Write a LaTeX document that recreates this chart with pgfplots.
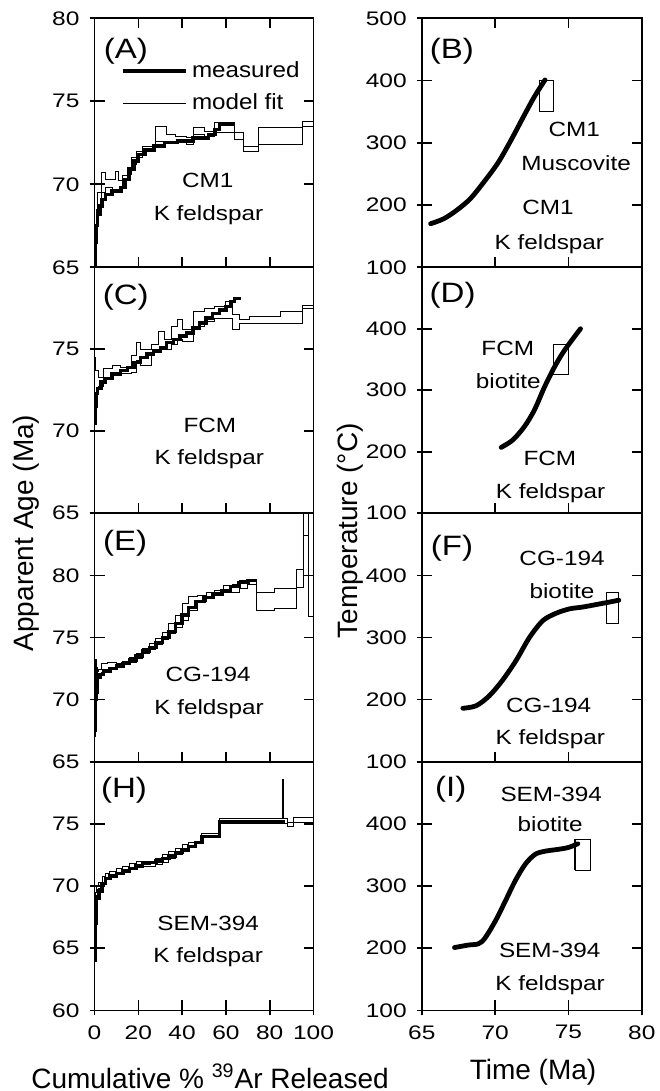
\documentclass[border=0pt]{standalone}
\usepackage{pgfplots}
\pgfplotsset{compat=1.18}
\usepackage{fontspec}
\setmainfont{Liberation Sans}
\newfontfamily\widefam{Liberation Sans}[FakeStretch=1.25]
\newfontfamily\midfam{Liberation Sans}[FakeStretch=1.18]
\newfontfamily\legfam{Liberation Sans}[FakeStretch=1.1]
\newcommand\tickfont{\widefam\fontsize{9.8}{10}\selectfont}
\newcommand\txtfont{\midfam\fontsize{10.3}{12}\selectfont}
\newcommand\lblfont{\midfam\fontsize{14}{16}\selectfont}
\newcommand\legfont{\legfam\fontsize{11}{12}\selectfont}
\newcommand\axfont{\fontsize{14}{16}\selectfont}

\pgfplotsset{
 base/.style={scale only axis, tick align=inside, major tick length=5pt,
   axis line style={line width=0.8pt}, tick style={black, line width=0.8pt},
   tick label style={font=\tickfont}, /pgf/number format/assume math mode=true,
   yticklabel style={xshift=-4pt}, xticklabel style={yshift=-4pt},
   ytick pos=both, clip=true},
 lpanel/.style={base, width=109.5pt, xmin=0, xmax=100, xtick={0,20,...,100}},
 rpanel/.style={base, width=110pt, xmin=65, xmax=80, xtick={65,70,75,80},
   ymin=100, ymax=500, ytick={100,200,...,500},
   extra y ticks={100,200,...,500}, extra y tick labels={},
   extra y tick style={tick align=outside, ytick pos=left, major tick length=2.5pt}},
 midx/.style={xtick pos=left, xticklabels={}},
 botx/.style={xtick pos=left,
   extra x tick labels={}, extra x tick style={tick align=outside, xtick pos=left, major tick length=2.5pt}},
 thk/.style={black, line width=1.7pt, const plot, forget plot},
 thn/.style={black, line width=0.5pt, const plot, forget plot},
 curve/.style={black, line width=2.4pt, smooth, line cap=round, forget plot},
 bx/.style={black, line width=0.6pt, forget plot},
}

\begin{document}
\begin{tikzpicture}
\path[use as bounding box] (0,0) rectangle (329.5pt,-545.5pt);

% ---------------- (A)
\begin{axis}[lpanel, at={(47.25pt,-9.15pt)}, anchor=north west, height=124.5pt,
  ymin=65, ymax=80, ytick={65,70,75,80}, xtick pos=both, xticklabels={},
  extra y ticks={65,70,75,80}, extra y tick labels={},
  extra y tick style={tick align=outside, ytick pos=left, major tick length=2.5pt},
  legend style={draw=none, fill=none, at={(axis cs:12.2,75.85)}, anchor=west,
    font=\legfont, inner sep=0pt, row sep=2.6pt},
  legend image code/.code={\draw[#1] (0pt,0pt) -- (31.5pt,0pt);},
  legend cell align=left]
\addplot[thn] coordinates {(0,66)(0.7,68.5)(1.5,69.5)(3,70.7)(5,70.3)(8,70.3)(9.5,70.8)(11,70.2)(13,70.5)(15,71.0)(17,71.6)(19,72.0)(22,72.3)(28,73.5)(33,73.0)(37,72.9)(42,72.8)(45,73.4)(50,73.2)(55,73.7)(64,73.1)(68,72.3)(75,73.4)(95,73.8)(100,73.8)};
\addplot[thn] coordinates {(0,65)(0.7,67)(1.5,68.5)(3,69.5)(5,69.8)(8,69.6)(11,69.5)(13,70.2)(15,70.6)(17,71.2)(19,71.6)(22,72.0)(28,72.6)(33,72.6)(37,72.6)(42,72.4)(45,73.0)(50,72.9)(55,73.1)(64,72.7)(68,72.0)(75,72.4)(95,73.5)(100,73.5)};
\addplot[thk] coordinates {(0,65)(0.4,66.5)(0.8,67.5)(1.5,68.2)(2.5,68.7)(3.5,69.1)(5,69.4)(8,69.6)(12,69.8)(14,70.3)(16,70.9)(18,71.4)(20,71.8)(23,72.1)(27,72.3)(32,72.5)(38,72.6)(45,72.8)(52,73.0)(55,73.3)(57,73.6)(64,73.6)};
\addlegendimage{black, line width=1.7pt}\addlegendentry{measured}
\addlegendimage{black, line width=0.5pt}\addlegendentry{model fit}
\node[font=\lblfont] at (axis cs:14.3,78.0) {(A)};
\node[font=\txtfont, anchor=base] at (axis cs:51.75,69.78) {CM1};
\node[font=\txtfont, anchor=base] at (axis cs:52.05,67.84) {K feldspar};
\end{axis}

% ---------------- (C)
\begin{axis}[lpanel, midx, at={(47.25pt,-133.65pt)}, anchor=north west, height=122.95pt,
  ymin=65, ymax=80, ytick={65,70,75,80}, yticklabels={65,70,75,{}},
  extra y ticks={65,70,75,80}, extra y tick labels={},
  extra y tick style={tick align=outside, ytick pos=left, major tick length=2.5pt}]
\addplot[thn] coordinates {(0,74.5)(0.5,73.7)(2,73.3)(4,73.8)(8,74.0)(12,73.9)(17,74.6)(19,75.4)(21,75.0)(26,75.3)(29,76.1)(32,75.6)(35,76.4)(38,76.8)(40,76.2)(45,77.3)(50,77.5)(55,77.6)(60,77.9)(63,77.1)(66,76.8)(71,77.0)(85,77.3)(95,77.7)(100,77.7)};
\addplot[thn] coordinates {(0,71)(0.5,72.3)(2,72.7)(4,73.2)(8,73.5)(12,73.5)(17,73.6)(19,74.3)(21,74.0)(26,74.8)(29,75.0)(32,75.0)(35,75.3)(38,75.6)(40,75.5)(45,76.4)(50,76.7)(55,76.9)(60,76.9)(63,76.2)(66,76.6)(71,76.6)(85,76.6)(95,77.5)(100,77.5)};
\addplot[thk] coordinates {(0,70.5)(0.3,71.5)(0.8,72.3)(1.5,72.6)(3,73.0)(5,73.2)(8,73.5)(12,73.7)(15,73.9)(18,74.2)(21,74.5)(24,74.7)(27,74.9)(30,75.1)(33,75.4)(36,75.6)(39,75.8)(42,76.0)(45,76.3)(48,76.6)(51,76.9)(54,77.2)(57,77.4)(60,77.6)(62,77.9)(64,78.1)(67,78.1)};
\node[font=\lblfont] at (axis cs:14.3,78.17) {(C)};
\node[font=\txtfont, anchor=base] at (axis cs:52.7,69.91) {FCM};
\node[font=\txtfont, anchor=base] at (axis cs:52.4,67.99) {K feldspar};
\end{axis}

% ---------------- (E)
\begin{axis}[lpanel, midx, at={(47.25pt,-256.6pt)}, anchor=north west, height=124.25pt,
  ymin=65, ymax=85, ytick={65,70,...,85}, yticklabels={65,70,75,80,{}},
  extra y ticks={65,70,...,85}, extra y tick labels={},
  extra y tick style={tick align=outside, ytick pos=left, major tick length=2.5pt}]
\addplot[thn] coordinates {(0,69)(0.3,73.2)(1,72.3)(2,72.4)(3,72.9)(6,73.0)(10,72.9)(13,73.1)(16,73.4)(19,73.7)(22,74.1)(25,74.5)(28,74.9)(31,75.4)(34,76.1)(37,76.8)(40,77.7)(43,78.3)(47,78.4)(51,78.6)(55,78.8)(59,79.2)(63,79.3)(66,79.6)(70,79.7)(74,78.6)(82,78.9)(92.4,80.5)(95.4,86)(97.7,80.0)(100,80.0)};
\addplot[thn] coordinates {(0,67)(0.3,69.5)(1,70.5)(2,71.8)(3,72.2)(6,72.4)(10,72.6)(13,72.8)(16,73.0)(19,73.3)(22,73.7)(25,74.0)(28,74.4)(31,74.8)(34,75.3)(37,75.8)(40,76.4)(43,77.2)(47,77.9)(51,78.1)(55,78.4)(59,78.6)(63,78.6)(66,78.9)(70,79.3)(74,77.2)(82,77.3)(92.4,79.0)(95.4,83.2)(97.7,76.7)(100,76.7)};
\addplot[thk] coordinates {(0,67.5)(0.3,70)(0.6,72.5)(1,71)(1.5,71.8)(2.5,72.0)(4,72.3)(7,72.5)(10,72.7)(13,72.9)(16,73.2)(19,73.5)(22,73.9)(25,74.2)(28,74.6)(31,75.0)(34,75.5)(37,76.1)(40,76.8)(43,77.4)(46,77.9)(50,78.2)(54,78.5)(58,78.8)(62,79.1)(66,79.4)(70,79.6)(74,79.6)};
\node[font=\lblfont] at (axis cs:14,82.6) {(E)};
\node[font=\txtfont, anchor=base] at (axis cs:51.9,71.48) {CG-194};
\node[font=\txtfont, anchor=base] at (axis cs:52.3,68.79) {K feldspar};
\end{axis}

% ---------------- (H)
\begin{axis}[lpanel, botx, at={(47.25pt,-380.85pt)}, anchor=north west, height=124.3pt,
  ymin=60, ymax=80, ytick={60,65,...,80}, yticklabels={60,65,70,75,{}},
  extra x ticks={0,20,...,100},
  extra y ticks={60,65,...,80}, extra y tick labels={},
  extra y tick style={tick align=outside, ytick pos=left, major tick length=2.5pt}]
\addplot[thn] coordinates {(0,67)(0.3,68.8)(0.6,69.5)(1,70.0)(2,70.3)(3.5,70.8)(5,71.0)(7,71.2)(10,71.4)(13,71.6)(16,71.8)(19,72.0)(22,72.0)(25,72.0)(28,72.2)(31,72.5)(34,72.8)(37,73.0)(40,73.3)(43,73.5)(46,73.6)(49,74.2)(57,75.4)(85.8,78.6)(86.1,75.4)(88,75.1)(91,75.5)(100,75.6)};
\addplot[thn] coordinates {(0,65)(0.3,67.5)(0.6,68.5)(1,69.2)(2,69.8)(3.5,70.3)(5,70.6)(7,70.8)(10,71.0)(13,71.2)(16,71.4)(19,71.5)(22,71.6)(25,71.6)(28,71.7)(31,71.9)(34,72.2)(37,72.5)(40,72.8)(43,73.1)(46,73.4)(49,73.9)(57,75.0)(85.8,75.0)(86.1,75.0)(88,74.8)(91,75.1)(100,75.2)};
\addplot[thk] coordinates {(0,64)(0.3,67)(0.6,68.5)(1,69)(2,69.6)(3.5,70.2)(5,70.6)(7,70.8)(10,71.0)(13,71.2)(16,71.4)(19,71.6)(22,71.8)(25,71.9)(28,72.0)(31,72.2)(34,72.4)(37,72.7)(40,72.9)(43,73.2)(46,73.5)(49,74.0)(57,75.2)(87,75.2)};
\node[font=\lblfont] at (axis cs:13.5,77.67) {(H)};
\node[font=\txtfont, anchor=base] at (axis cs:51.9,66.43) {SEM-394};
\node[font=\txtfont, anchor=base] at (axis cs:51.9,63.84) {K feldspar};
\end{axis}

% ---------------- (B)
\begin{axis}[rpanel, at={(210.9pt,-9.15pt)}, anchor=north west, height=124.5pt,
  xtick pos=both, xticklabels={}]
\addplot[curve] coordinates {(65.6,170)(66.5,178)(67.4,192)(68.3,210)(69.2,236)(70.2,268)(71.1,305)(72.0,345)(72.7,375)(73.4,401)};
\addplot[bx] coordinates {(73.0,350)(74.0,350)(74.0,400)(73.0,400)(73.0,350)};
\node[font=\lblfont] at (axis cs:67.05,447) {(B)};
\node[font=\txtfont, anchor=base] at (axis cs:75.39,309.7) {CM1};
\node[font=\txtfont, anchor=base] at (axis cs:75.52,254.8) {Muscovite};
\node[font=\txtfont, anchor=base] at (axis cs:73.6,185) {CM1};
\node[font=\txtfont, anchor=base] at (axis cs:73.7,128.5) {K feldspar};
\end{axis}

% ---------------- (D)
\begin{axis}[rpanel, midx, at={(210.9pt,-133.65pt)}, anchor=north west, height=122.95pt,
  yticklabels={100,200,300,400,{}}]
\addplot[curve] coordinates {(70.41,207)(71.2,219)(72.0,241)(72.68,268)(73.36,305)(74.05,338)(74.73,365)(75.82,400)};
\addplot[bx] coordinates {(74.0,325)(75.0,325)(75.0,374)(74.0,374)(74.0,325)};
\node[font=\lblfont] at (axis cs:67.1,454) {(D)};
\node[font=\txtfont, anchor=base] at (axis cs:70.86,356.8) {FCM};
\node[font=\txtfont, anchor=base] at (axis cs:70.9,302.7) {biotite};
\node[font=\txtfont, anchor=base] at (axis cs:73.73,178.4) {FCM};
\node[font=\txtfont, anchor=base] at (axis cs:73.78,124.3) {K feldspar};
\end{axis}

% ---------------- (F)
\begin{axis}[rpanel, midx, at={(210.9pt,-256.6pt)}, anchor=north west, height=124.25pt,
  yticklabels={100,200,300,400,{}}]
\addplot[curve] coordinates {(67.8,186)(68.7,190)(69.6,206)(70.5,231)(71.43,263)(72.34,300)(73.25,327)(74.16,339)(75.07,346)(75.98,349)(76.9,353)(77.8,357)(78.43,360)};
\addplot[bx] coordinates {(77.57,323)(78.43,323)(78.43,373)(77.57,373)(77.57,323)};
\node[font=\lblfont] at (axis cs:67.06,443.7) {(F)};
\node[font=\txtfont, anchor=base] at (axis cs:74.56,416) {CG-194};
\node[font=\txtfont, anchor=base] at (axis cs:74.56,362.4) {biotite};
\node[font=\txtfont, anchor=base] at (axis cs:73.65,179.6) {CG-194};
\node[font=\txtfont, anchor=base] at (axis cs:73.76,128.5) {K feldspar};
\end{axis}

% ---------------- (I)
\begin{axis}[rpanel, botx, at={(210.9pt,-380.85pt)}, anchor=north west, height=124.3pt,
  yticklabels={100,200,300,400,{}}, extra x ticks={65,70,75,80}]
\addplot[curve] coordinates {(67.23,201)(68.18,205)(68.86,207)(69.3,216)(70.0,243)(70.68,275)(71.36,308)(72.05,335)(72.73,351)(73.4,356)(74.3,359)(75.0,362)(75.64,368)};
\addplot[bx] coordinates {(75.45,325)(76.48,325)(76.48,375)(75.45,375)(75.45,325)};
\node[font=\lblfont] at (axis cs:66.97,455) {(I)};
\node[font=\txtfont, anchor=base] at (axis cs:73.82,436.5) {SEM-394};
\node[font=\txtfont, anchor=base] at (axis cs:73.75,388) {biotite};
\node[font=\txtfont, anchor=base] at (axis cs:73.72,185.3) {SEM-394};
\node[font=\txtfont, anchor=base] at (axis cs:73.75,131.6) {K feldspar};
\end{axis}

% axis titles
\node[font=\axfont, rotate=90, anchor=base] at (16.5pt,-266.5pt) {Apparent Age (Ma)};
\node[font=\axfont, rotate=90, anchor=base] at (178.5pt,-265.4pt) {Temperature (\textdegree C)};
\node[font=\axfont, anchor=base] at (105pt,-544pt) {Cumulative \% \textsuperscript{39}Ar Released};
\node[font=\axfont, anchor=base] at (266.5pt,-539.7pt) {Time (Ma)};
\end{tikzpicture}
\end{document}
